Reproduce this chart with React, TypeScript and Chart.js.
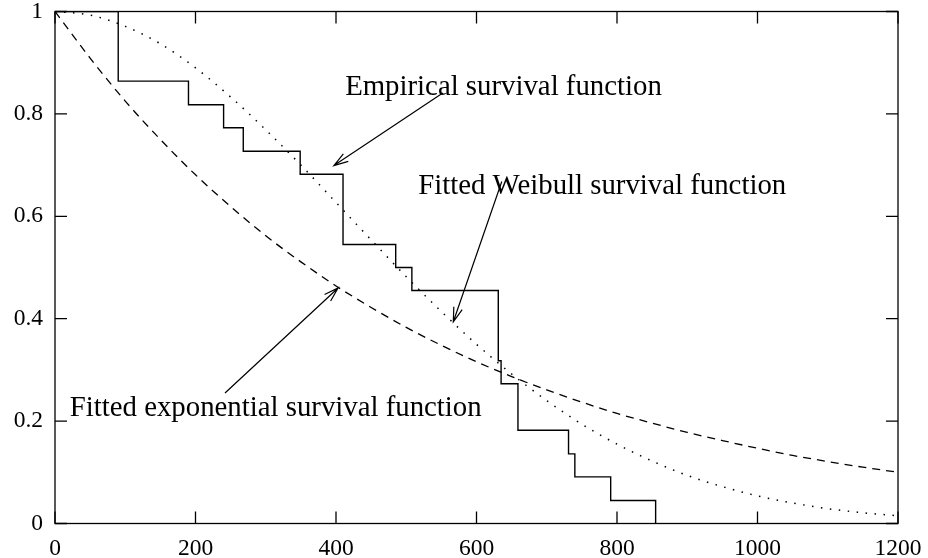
import React, { useEffect, useRef } from "react";
import { Chart, registerables } from "chart.js";

Chart.register(...registerables);

// Empirical (Kaplan–Meier style) survival function: event times and survival values
const empiricalTimes = [0, 90, 190, 240, 268, 349, 410, 485, 508, 631, 635, 659, 731, 740, 791, 855];
const empiricalSurvival = [1, 0.864, 0.818, 0.773, 0.727, 0.682, 0.545, 0.5, 0.455, 0.318, 0.273, 0.182, 0.136, 0.091, 0.045, 0];

// Fitted curves every 50 time units
const fitTimes = [0, 50, 100, 150, 200, 250, 300, 350, 400, 450, 500, 550, 600, 650, 700, 750, 800, 850, 900, 950, 1000, 1050, 1100, 1150, 1200];
const weibullSurvival = [1, 0.993, 0.971, 0.937, 0.89, 0.833, 0.769, 0.7, 0.627, 0.554, 0.482, 0.414, 0.35, 0.292, 0.24, 0.194, 0.155, 0.122, 0.094, 0.072, 0.054, 0.04, 0.029, 0.021, 0.015];
const exponentialSurvival = [1, 0.909, 0.825, 0.75, 0.681, 0.619, 0.562, 0.511, 0.464, 0.422, 0.383, 0.348, 0.316, 0.287, 0.261, 0.237, 0.215, 0.196, 0.178, 0.162, 0.147, 0.133, 0.121, 0.11, 0.1];

const xTickValues = [0, 200, 400, 600, 800, 1000, 1200];
const yTickValues = [0, 0.2, 0.4, 0.6, 0.8, 1];

// Annotation texts with anchor and arrow positions in data units
const annotationTexts = [
  "Empirical survival function",
  "Fitted Weibull survival function",
  "Fitted exponential survival function",
];
const annotationAnchors = [
  [413, 0.852],
  [517, 0.659],
  [21, 0.224],
];
const arrowStarts = [
  [552, 0.841],
  [636, 0.668],
  [242, 0.255],
];
const arrowTips = [
  [397, 0.699],
  [567, 0.394],
  [403, 0.46],
];

const SERIF = '"Liberation Serif", "Times New Roman", serif';

const framePlugin = {
  id: "gnuplotFrame",
  afterDatasetsDraw(chart: any) {
    const { ctx, chartArea: a, scales } = chart;
    const xs = scales.x;
    const ys = scales.y;
    ctx.save();
    ctx.strokeStyle = "#000";
    ctx.lineWidth = 1.3;
    ctx.strokeRect(a.left, a.top, a.right - a.left, a.bottom - a.top);
    const L = 12;
    ctx.beginPath();
    for (const v of xTickValues) {
      const px = xs.getPixelForValue(v);
      ctx.moveTo(px, a.bottom);
      ctx.lineTo(px, a.bottom - L);
      ctx.moveTo(px, a.top);
      ctx.lineTo(px, a.top + L);
    }
    for (const v of yTickValues) {
      const py = ys.getPixelForValue(v);
      ctx.moveTo(a.left, py);
      ctx.lineTo(a.left + L, py);
      ctx.moveTo(a.right, py);
      ctx.lineTo(a.right - L, py);
    }
    ctx.stroke();

    ctx.fillStyle = "#000";
    ctx.font = `28.8px ${SERIF}`;
    ctx.textAlign = "left";
    ctx.textBaseline = "middle";
    ctx.lineWidth = 1.2;
    annotationTexts.forEach((t, i) => {
      ctx.fillText(t, xs.getPixelForValue(annotationAnchors[i][0]), ys.getPixelForValue(annotationAnchors[i][1]));
      const x0 = xs.getPixelForValue(arrowStarts[i][0]);
      const y0 = ys.getPixelForValue(arrowStarts[i][1]);
      const x1 = xs.getPixelForValue(arrowTips[i][0]);
      const y1 = ys.getPixelForValue(arrowTips[i][1]);
      const ang = Math.atan2(y1 - y0, x1 - x0);
      const hl = 15;
      const spread = 0.3;
      ctx.beginPath();
      ctx.moveTo(x0, y0);
      ctx.lineTo(x1, y1);
      ctx.moveTo(x1 - hl * Math.cos(ang - spread), y1 - hl * Math.sin(ang - spread));
      ctx.lineTo(x1, y1);
      ctx.lineTo(x1 - hl * Math.cos(ang + spread), y1 - hl * Math.sin(ang + spread));
      ctx.stroke();
    });
    ctx.restore();
  },
};

export default function App() {
  const canvasRef = useRef<HTMLCanvasElement | null>(null);

  useEffect(() => {
    const canvas = canvasRef.current;
    if (!canvas) return;
    const chart = new Chart(canvas, {
      type: "line",
      data: {
        datasets: [
          {
            label: "Empirical survival function",
            data: empiricalTimes.map((t, i) => ({ x: t, y: empiricalSurvival[i] })),
            borderColor: "#000",
            borderWidth: 1.4,
            stepped: true,
            pointRadius: 0,
            fill: false,
          },
          {
            label: "Fitted Weibull survival function",
            data: fitTimes.map((t, i) => ({ x: t, y: weibullSurvival[i] })),
            borderColor: "#000",
            borderWidth: 1.5,
            borderDash: [1.5, 7.5],
            cubicInterpolationMode: "monotone",
            pointRadius: 0,
            fill: false,
          },
          {
            label: "Fitted exponential survival function",
            data: fitTimes.map((t, i) => ({ x: t, y: exponentialSurvival[i] })),
            borderColor: "#000",
            borderWidth: 1.3,
            borderDash: [8, 6],
            cubicInterpolationMode: "monotone",
            pointRadius: 0,
            fill: false,
          },
        ],
      },
      options: {
        animation: false,
        responsive: false,
        maintainAspectRatio: false,
        layout: { padding: { left: 0, top: 11.5, right: 30, bottom: 0 } },
        plugins: {
          legend: { display: false },
          tooltip: { enabled: false },
        },
        scales: {
          x: {
            type: "linear",
            min: 0,
            max: 1200,
            grid: { display: false, drawTicks: false },
            border: { display: false },
            afterBuildTicks: (s: any) => {
              s.ticks = xTickValues.map((v) => ({ value: v }));
            },
            afterFit: (s: any) => {
              s.height = 34.5;
              s.paddingLeft = 0;
              s.paddingRight = 0;
            },
            ticks: {
              color: "#000",
              font: { family: SERIF, size: 23.5 },
              padding: 11,
              maxRotation: 0,
              autoSkip: false,
              callback: (v: any) => String(v),
            },
          },
          y: {
            type: "linear",
            min: 0,
            max: 1,
            grid: { display: false, drawTicks: false },
            border: { display: false },
            afterBuildTicks: (s: any) => {
              s.ticks = yTickValues.map((v) => ({ value: v }));
            },
            afterFit: (s: any) => {
              s.width = 55;
              s.paddingTop = 0;
              s.paddingBottom = 0;
            },
            ticks: {
              color: "#000",
              font: { family: SERIF, size: 23.5 },
              padding: 12,
              autoSkip: false,
              callback: (v: any) => String(Number(Number(v).toFixed(1))),
            },
          },
        },
      },
      plugins: [framePlugin],
    });
    return () => chart.destroy();
  }, []);

  return (
    <div style={{ position: "fixed", left: 0, top: 0, width: 928, height: 558, background: "#fff" }}>
      <canvas ref={canvasRef} width={928} height={558} style={{ display: "block", width: 928, height: 558 }} />
    </div>
  );
}
